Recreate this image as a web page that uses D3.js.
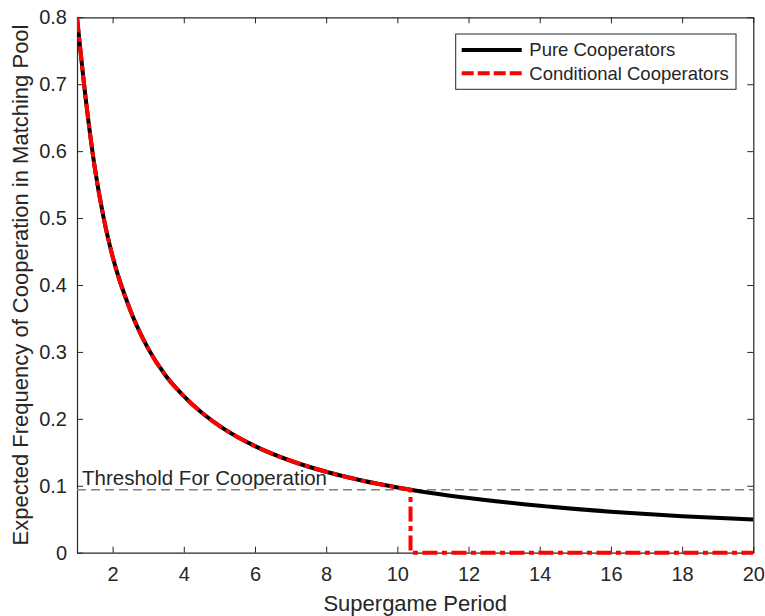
<!DOCTYPE html>
<html>
<head>
<meta charset="utf-8">
<script src="https://cdn.jsdelivr.net/npm/d3@7"></script>
<style>
  html, body { margin: 0; padding: 0; background: #fff; }
  svg { display: block; }
  text { font-family: "Liberation Sans", Arial, Helvetica, sans-serif; fill: #262626; }
</style>
</head>
<body>
<svg id="chart" width="765" height="616"></svg>
<script>
// ---- data ----
const periods   = [1, 1.25, 1.5, 1.75, 2, 2.5, 3, 3.5, 4, 4.5, 5, 6, 7, 8, 9, 10, 10.37, 11, 12, 14, 16, 18, 20];
const pureCoop  = [0.800, 0.676, 0.575, 0.500, 0.4425, 0.362, 0.305, 0.264, 0.234, 0.2095, 0.1896, 0.1593, 0.1374, 0.1209, 0.1079, 0.0975, 0.0941, 0.0889, 0.0818, 0.0700, 0.0613, 0.0545, 0.0495];
const dropPeriod = 10.37;
const condTail  = [[10.37, 0.0941], [10.37, 0], [20, 0]];
const threshold = 0.094;
const thresholdLabel = "Threshold For Cooperation";
const xTicks = [2, 4, 6, 8, 10, 12, 14, 16, 18, 20];
const yTicks = [0, 0.1, 0.2, 0.3, 0.4, 0.5, 0.6, 0.7, 0.8];
const seriesNames = ["Pure Cooperators", "Conditional Cooperators"];
const xLabel = "Supergame Period";
const yLabel = "Expected Frequency of Cooperation in Matching Pool";

// ---- layout ----
const svg = d3.select("#chart");
const L = 77, R = 753.3, T = 17.3, B = 552.7;
const x = d3.scaleLinear().domain([1, 20]).range([L, R]);
const y = d3.scaleLinear().domain([0, 0.8]).range([B, T]);
const axisColor = "#262626";

svg.append("defs").append("clipPath").attr("id", "plotclip")
  .append("rect").attr("x", L).attr("y", T).attr("width", R - L).attr("height", B - T + 4);

// axes box with inward ticks
const gx = svg.append("g").attr("transform", `translate(0,${B})`)
  .call(d3.axisBottom(x).tickValues(xTicks).tickSizeInner(-6).tickSizeOuter(0).tickPadding(14).tickFormat(d3.format("d")));
const gxTop = svg.append("g").attr("transform", `translate(0,${T})`)
  .call(d3.axisTop(x).tickValues(xTicks).tickSizeInner(-6).tickSizeOuter(0).tickFormat(""));
const gy = svg.append("g").attr("transform", `translate(${L},0)`)
  .call(d3.axisLeft(y).tickValues(yTicks).tickSizeInner(-6).tickSizeOuter(0).tickPadding(10)
    .tickFormat(d => d === 0 ? "0" : d3.format(".1f")(d)));
const gyR = svg.append("g").attr("transform", `translate(${R},0)`)
  .call(d3.axisRight(y).tickValues(yTicks).tickSizeInner(-6).tickSizeOuter(0).tickFormat(""));

[gx, gxTop, gy, gyR].forEach(g => {
  g.selectAll("path.domain").attr("stroke", axisColor).attr("stroke-width", 1.2);
  g.selectAll(".tick line").attr("stroke", axisColor).attr("stroke-width", 1);
  g.selectAll(".tick text").attr("fill", axisColor).style("font-size", "20px")
    .style("font-family", '"Liberation Sans", Arial, sans-serif');
});
gx.selectAll(".tick text").attr("dy", "0.71em");

// axis labels
svg.append("text").attr("x", (L + R) / 2).attr("y", 611)
  .attr("text-anchor", "middle").style("font-size", "22px").text(xLabel);
svg.append("text").attr("transform", `translate(28,${(T + B) / 2}) rotate(-90)`)
  .attr("text-anchor", "middle").style("font-size", "22px").text(yLabel);

const plot = svg.append("g").attr("clip-path", "url(#plotclip)");

// threshold line
plot.append("line")
  .attr("x1", x(1)).attr("x2", x(20)).attr("y1", y(threshold)).attr("y2", y(threshold))
  .attr("stroke", "#808080").attr("stroke-width", 1.6).attr("stroke-dasharray", "9,5");

// pure cooperators (solid black)
const pts = periods.map((p, i) => [p, pureCoop[i]]);
const lineCurve = d3.line().x(d => x(d[0])).y(d => y(d[1])).curve(d3.curveMonotoneX);
const lineLin = d3.line().x(d => x(d[0])).y(d => y(d[1]));
plot.append("path").attr("d", lineCurve(pts))
  .attr("fill", "none").attr("stroke", "#000").attr("stroke-width", 4);

// conditional cooperators (red dash-dot), follows the curve then drops to zero
const condPts = pts.filter(d => d[0] <= dropPeriod);
const condPath = lineCurve(condPts) + lineLin(condTail).replace(/^M/, "L");
plot.append("path").attr("d", condPath)
  .attr("fill", "none").attr("stroke", "#ff0000").attr("stroke-width", 4)
  .attr("stroke-dasharray", "15,4.5,5,4.5");

// threshold label
svg.append("text").attr("x", 82).attr("y", 485).style("font-size", "20.5px").text(thresholdLabel);

// legend
const lg = svg.append("g");
lg.append("rect").attr("x", 455.7).attr("y", 34).attr("width", 280.3).attr("height", 55.3)
  .attr("fill", "#fff").attr("stroke", axisColor).attr("stroke-width", 1);
const legY = [50, 73.3];
lg.append("line").attr("x1", 461.7).attr("x2", 521.7).attr("y1", legY[0]).attr("y2", legY[0])
  .attr("stroke", "#000").attr("stroke-width", 4);
lg.append("line").attr("x1", 461.7).attr("x2", 521.7).attr("y1", legY[1]).attr("y2", legY[1])
  .attr("stroke", "#ff0000").attr("stroke-width", 4).attr("stroke-dasharray", "12,4");
seriesNames.forEach((s, i) => {
  lg.append("text").attr("x", 529.3).attr("y", legY[i]).attr("dy", "0.35em")
    .style("font-size", "18.5px").text(s);
});
</script>
</body>
</html>
